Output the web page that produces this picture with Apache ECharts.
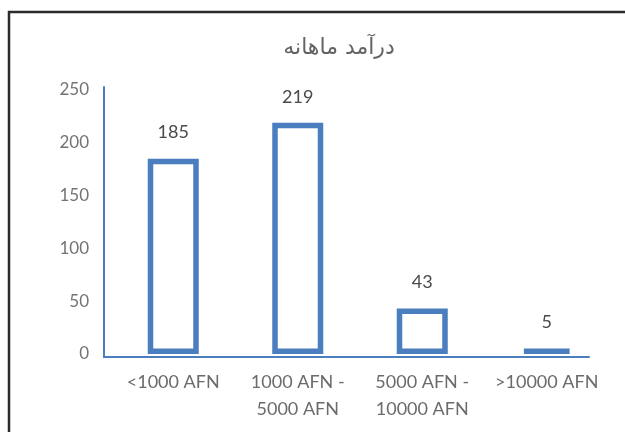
<!DOCTYPE html>
<html><head><meta charset="utf-8">
<script src="https://cdn.jsdelivr.net/npm/echarts@6/dist/echarts.min.js"></script>
<style>html,body{margin:0;padding:0;background:#fff}#c{width:625px;height:432px}</style>
</head><body><div id="c"></div>
<script>
const titleText = 'درآمد ماهانه';
const categories = ['<1000 AFN', '1000 AFN -\n5000 AFN', '5000 AFN -\n10000 AFN', '>10000 AFN'];
const values = [185, 219, 43, 5];
const yTicks = [0, 50, 100, 150, 200, 250];

const blue = '#4a7ebf';
const font = 'Lato';
const chart = echarts.init(document.getElementById('c'), null, {renderer: 'canvas'});
chart.setOption({
  animation: false,
  backgroundColor: '#fff',
  title: {
    text: titleText, left: 334, top: 32, textAlign: 'center',
    textStyle: {fontFamily: 'DejaVu Sans', fontSize: 22, fontWeight: 'normal', color: '#636363'}
  },
  graphic: [{
    type: 'rect', shape: {x: 9, y: 12, width: 700, height: 500}, silent: true,
    style: {fill: 'none', stroke: '#2b2b2b', lineWidth: 2.5}
  }],
  grid: [
    {left: 104, right: 36, top: 87, bottom: 75},
    {left: 111, right: 16, top: 90, bottom: 78}
  ],
  xAxis: [
    {gridIndex: 0, type: 'category', data: categories,
     axisLine: {lineStyle: {color: blue, width: 2}}, axisTick: {show: false}, axisLabel: {show: false}},
    {gridIndex: 1, type: 'category', data: categories,
     axisLine: {show: false}, axisTick: {show: false},
     axisLabel: {fontFamily: font, fontSize: 18, color: '#6b6b6b', lineHeight: 27.5, margin: 14, interval: 0}}
  ],
  yAxis: [
    {gridIndex: 0, type: 'value', min: yTicks[0], max: yTicks[yTicks.length - 1], interval: 50,
     axisLine: {show: true, lineStyle: {color: blue, width: 2}}, axisTick: {show: false},
     splitLine: {show: false}, axisLabel: {show: false}},
    {gridIndex: 1, type: 'value', min: yTicks[0], max: yTicks[yTicks.length - 1], interval: 50,
     axisLine: {show: false}, axisTick: {show: false}, splitLine: {show: false},
     axisLabel: {fontFamily: font, fontSize: 17, color: '#737373', margin: 22}}
  ],
  series: [{
    type: 'bar', xAxisIndex: 1, yAxisIndex: 1, data: values, barWidth: 51,
    itemStyle: {color: '#fff', borderColor: blue, borderWidth: 5.5},
    label: {show: true, position: 'top', distance: 17, fontFamily: font, fontSize: 18, color: '#4a4a4a'}
  }]
});
</script></body></html>
